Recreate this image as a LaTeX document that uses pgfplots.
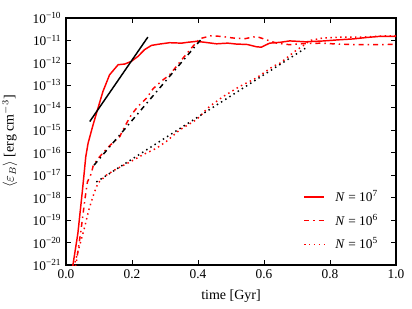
\documentclass[border=0pt]{standalone}
\usepackage{fontspec}
\setmainfont{Liberation Serif}
\usepackage{pgfplots}
\pgfplotsset{compat=1.18}
\begin{document}
\begin{tikzpicture}
\begin{axis}[
  scale only axis, width=247.5pt, height=185.25pt,
  xmin=0, xmax=1, ymode=log, log basis y=10, ymin=1e-21, ymax=1e-10,
  xtick={0,0.2,0.4,0.6,0.8,1},
  xticklabel style={/pgf/number format/.cd, fixed, fixed zerofill, precision=1},
  /pgf/number format/assume math mode=true,
  ytickten={-21,-20,-19,-18,-17,-16,-15,-14,-13,-12,-11,-10},
  yticklabels={10\textsuperscript{−21},10\textsuperscript{−20},10\textsuperscript{−19},10\textsuperscript{−18},10\textsuperscript{−17},10\textsuperscript{−16},10\textsuperscript{−15},10\textsuperscript{−14},10\textsuperscript{−13},10\textsuperscript{−12},10\textsuperscript{−11},10\textsuperscript{−10}},
  tick align=inside,
  major tick length=3.5pt, minor tick length=2pt,
  axis line style={line width=1pt},
  every tick/.style={black, line width=0.6pt},
  xlabel={time [Gyr]},
  ylabel={$\langle\varepsilon_B\rangle$ [erg cm$^{-3}$]},
  xlabel style={at={(axis description cs:0.5,-0.1255)}, anchor=center, font=\fontsize{10.5}{12}\selectfont},
  ylabel style={at={(axis description cs:-0.17,0.5)}, anchor=center, font=\fontsize{10.5}{12}\selectfont},
  legend style={draw=none, fill=none, at={(rel axis cs:0.966,0.035)}, anchor=south east, row sep=4pt},
  legend cell align=left,
  legend image code/.code={\draw[#1] (0pt,0pt) -- (15pt,0pt);},
]
\addplot[red, line width=1.1pt] coordinates {
(0.016,5e-22) (0.021,1e-21) (0.036,2.57e-20) (0.050,2.24e-18) (0.060,6.76e-17) (0.067,2.69e-16) (0.082,1.74e-15) (0.097,9.77e-15) (0.112,5.37e-14) (0.132,2.95e-13) (0.158,8.32e-13) (0.178,8.91e-13) (0.198,1.17e-12) (0.218,1.95e-12) (0.238,3.89e-12) (0.259,6.03e-12) (0.284,6.92e-12) (0.314,7.94e-12) (0.35,7.59e-12) (0.37,8.32e-12) (0.395,9.12e-12) (0.42,8.3e-12) (0.456,7.08e-12) (0.49,7.6e-12) (0.516,6.92e-12) (0.55,6.6e-12) (0.577,5.25e-12) (0.592,5.0e-12) (0.617,7.59e-12) (0.65,8.3e-12) (0.678,9.55e-12) (0.726,8.7e-12) (0.78,9.5e-12) (0.827,1.07e-11) (0.87,1.17e-11) (0.91,1.35e-11) (0.948,1.51e-11) (1.0,1.51e-11)
};
\addlegendentry{\hspace*{6pt}\textit{N} = 10\textsuperscript{7}}
\addplot[red, line width=1.1pt, dash pattern=on 3.75pt off 3pt on 1.1pt off 3pt] coordinates {
(0.024,6.3e-22) (0.03,1e-21) (0.045,3.16e-20) (0.058,1e-18) (0.065,5e-18) (0.077,1.23e-17) (0.082,2.5e-17) (0.095,5e-17) (0.107,8.13e-17) (0.132,2.04e-16) (0.163,5.25e-16) (0.178,1.48e-15) (0.198,4.9e-15) (0.218,1.15e-14) (0.244,2.69e-14) (0.264,7.08e-14) (0.29,1.58e-13) (0.314,2.95e-13) (0.335,7.08e-13) (0.355,1.66e-12) (0.38,4.57e-12) (0.405,1.2e-11) (0.44,1.62e-11) (0.471,1.51e-11) (0.506,1.29e-11) (0.542,1.2e-11) (0.577,1.51e-11) (0.607,1.07e-11) (0.638,7.59e-12) (0.678,6.46e-12) (0.708,7.08e-12) (0.774,7.59e-12) (0.809,7.08e-12) (0.88,6.46e-12) (0.95,6.46e-12) (1.0,6.76e-12)
};
\addlegendentry{\hspace*{6pt}\textit{N} = 10\textsuperscript{6}}
\addplot[red, line width=1.1pt, dash pattern=on 1.1pt off 2.6pt] coordinates {
(0.018,5e-22) (0.025,1e-21) (0.04,6.3e-21) (0.055,4e-20) (0.07,3.16e-19) (0.085,1.58e-18) (0.097,4.47e-18) (0.122,1e-17) (0.153,1.91e-17) (0.193,3.8e-17) (0.233,8.13e-17) (0.274,1.58e-16) (0.304,3.16e-16) (0.345,1.05e-15) (0.395,2.95e-15) (0.435,1.15e-14) (0.476,3.16e-14) (0.526,8.91e-14) (0.577,2.14e-13) (0.627,6.92e-13) (0.65,1e-12) (0.693,3.24e-12) (0.723,6.46e-12) (0.739,1e-11) (0.779,1.29e-11) (0.839,1.41e-11) (0.9,1.41e-11) (0.98,1.62e-11) (1.0,1.58e-11)
};
\addlegendentry{\hspace*{6pt}\textit{N} = 10\textsuperscript{5}}
\addplot[black, line width=1.1pt, forget plot] coordinates {(0.072,2.45e-15) (0.248,1.41e-11)};
\addplot[black, line width=1.1pt, dash pattern=on 3.75pt off 3pt on 1.1pt off 3pt, forget plot] coordinates {(0.085,2.8e-17) (0.41,1.15e-11)};
\addplot[black, line width=1.1pt, dash pattern=on 1.1pt off 2.6pt, forget plot] coordinates {(0.092,5e-18) (0.725,4.47e-12)};
\end{axis}
\pgfresetboundingbox
\path ([shift={(-49.5pt,-33pt)}]current axis.south west) rectangle ([shift={(12pt,13.5pt)}]current axis.north east);
\end{tikzpicture}
\end{document}
